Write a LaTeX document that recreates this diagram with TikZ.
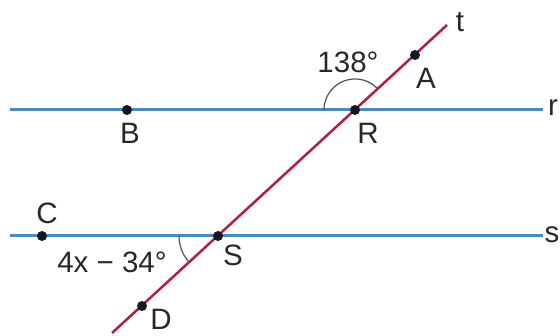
\documentclass[tikz,border=0pt]{standalone}
\usepackage{fontspec}
\setmainfont{Liberation Sans}
\definecolor{parblue}{RGB}{72,140,190}
\definecolor{transred}{RGB}{180,30,65}
\definecolor{dotcol}{RGB}{20,22,40}
\definecolor{txt}{RGB}{40,40,40}
\tikzset{
  pt/.style={circle,fill=dotcol,inner sep=0pt,minimum size=10pt},
  lbl/.style={font=\fontsize{29.5}{30}\selectfont,text=txt,inner sep=0pt},
  parline/.style={draw=parblue,line width=3pt},
  tline/.style={draw=transred,line width=2.5pt},
  anglemark/.style={draw=txt!80,line width=1.2pt}
}
\begin{document}
\begin{tikzpicture}[x=1pt,y=1pt]
\useasboundingbox (0,0) rectangle (560,335);
% line ends
\coordinate (rL) at (10,225);
\coordinate (rR) at (543,225);
\coordinate (sL) at (10,99);
\coordinate (sR) at (543,99);
\coordinate (tT) at (447,310);
\coordinate (tB) at (112,2);
\draw[parline] (rL) -- (rR);
\draw[parline] (sL) -- (sR);
\draw[tline] (tB) -- (tT);
% angle marks
\draw[anglemark] (355,225) ++(42.6:31) arc[start angle=42.6,end angle=180,radius=31];
\draw[anglemark] (218,99) ++(180:39) arc[start angle=180,end angle=222.6,radius=39];
% points
\node[pt] (R) at (355,225) {};
\node[pt] (S) at (218,99) {};
\node[pt] (A) at (415,280) {};
\node[pt] (B) at (127,225) {};
\node[pt] (C) at (42,99) {};
\node[pt] (D) at (142,29) {};
% labels
\node[lbl] (lt) at (460,313) {t};
\node[lbl] (lr) at (553,227) {r};
\node[lbl] (ls) at (552,100) {s};
\node[lbl] (lA) at (426,257) {A};
\node[lbl] (lR) at (368,202) {R};
\node[lbl] (lB) at (130,202) {B};
\node[lbl] (lC) at (47,122) {C};
\node[lbl] (lS) at (233,80) {S};
\node[lbl] (lD) at (161,16) {D};
\node[lbl] (l138) at (348,273) {138°};
\node[lbl] (lx) at (112,73) {4x − 34°};
\end{tikzpicture}
\end{document}
